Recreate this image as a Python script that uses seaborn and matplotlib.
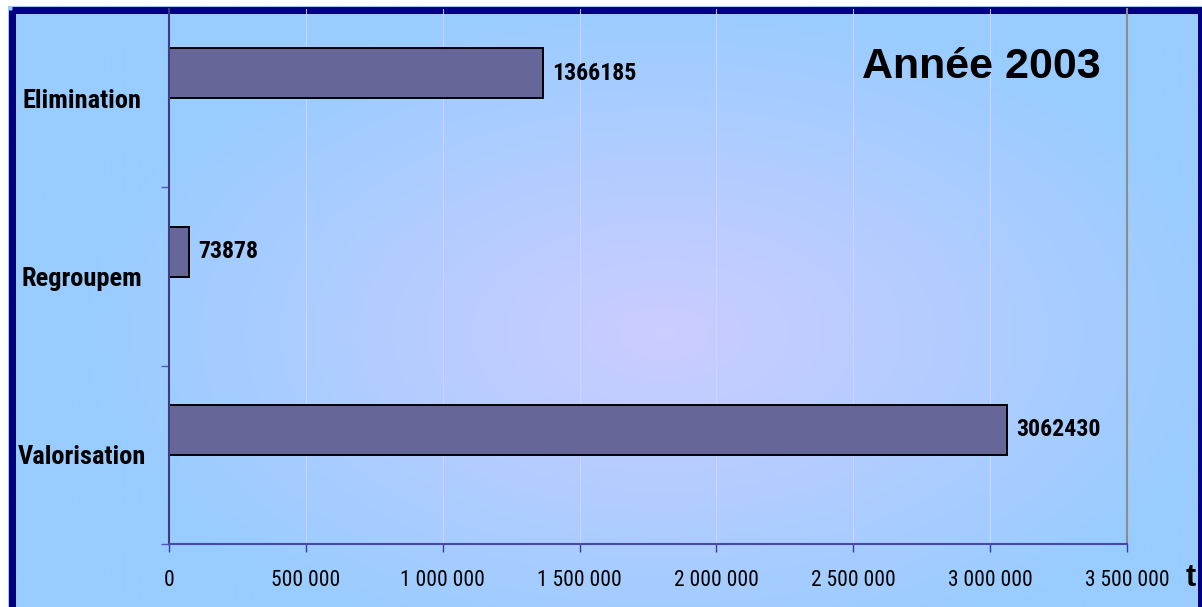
import numpy as np
import pandas as pd
import matplotlib.pyplot as plt
import matplotlib.colors as mcolors
from matplotlib import font_manager
from matplotlib.patches import Rectangle
from matplotlib.ticker import FixedLocator, FuncFormatter
import seaborn as sns

# data
categories = ['Elimination', 'Regroupem', 'Valorisation']
tonnages = [1366185, 73878, 3062430]
x_ticks = [0, 500000, 1000000, 1500000, 2000000, 2500000, 3000000, 3500000]

sns.set_theme(style='white')

# a narrow face if one is there, else plain Liberation Sans a bit smaller
names = {f.name for f in font_manager.fontManager.ttflist}
narrow_fams = [n for n in ['Liberation Sans Narrow', 'Arial Narrow', 'Roboto Condensed',
                           'Open Sans Condensed'] if n in names]
if narrow_fams:
    narrow, shrink = narrow_fams[0], 1.0
else:
    narrow, shrink = 'Liberation Sans', 0.84
plt.rcParams['font.family'] = [narrow, 'DejaVu Sans']
plt.rcParams['text.color'] = 'black'

W, H = 1202, 607
fig = plt.figure(figsize=(W / 100, H / 100), dpi=100)
fig.patch.set_facecolor('white')

# background: radial gradient lavender -> light blue, navy frame
bg = fig.add_axes([0, 0, 1, 1], zorder=0)
yy, xx = np.mgrid[0:H, 0:W]
d = np.sqrt(((xx - 660) / 580.0) ** 2 + ((yy - 330) / 340.0) ** 2).clip(0, 1)
c0 = np.array(mcolors.to_rgb('#cccdff'))
c1 = np.array(mcolors.to_rgb('#99ccff'))
img = c0 * (1 - d[..., None]) + c1 * d[..., None]
bg.imshow(img, extent=[8, W, H, 6], aspect='auto', interpolation='bilinear')
bg.add_patch(Rectangle((11.5, 9.5), 1200.5 - 11.5, 700, fill=False,
                       edgecolor='#000080', linewidth=7 * 0.72))
bg.set_xlim(0, W)
bg.set_ylim(H, 0)
bg.axis('off')

# main plot
ax = fig.add_axes([169 / W, 63 / H, 958 / W, 535 / H], zorder=1)
ax.patch.set_alpha(0)
df = pd.DataFrame({'categorie': categories, 'tonnage': tonnages})
sns.barplot(data=df, x='tonnage', y='categorie', orient='h', color='#666699',
            saturation=1, edgecolor='black', linewidth=1.4, width=0.28, ax=ax)

# bars sit just above the category centre
for p in ax.patches:
    p.set_y(p.get_y() - p.get_height() / 2)

for p, v in zip(ax.patches, tonnages):
    ax.annotate(str(v), (p.get_width(), p.get_y() + p.get_height() / 2),
                xytext=(6.5, 0), textcoords='offset points', va='center',
                ha='left', fontsize=17.2 * shrink, fontweight='bold', color='black')

ax.set_xlim(0, 3500000)
ax.set_ylim(2.5, -0.5)
ax.set_xlabel('')
ax.set_ylabel('')

ax.xaxis.set_major_locator(FixedLocator(x_ticks))
ax.xaxis.set_major_formatter(FuncFormatter(lambda v, pos: f'{v:,.0f}'.replace(',', ' ')))
ax.tick_params(axis='x', direction='out', length=5.8, width=1, color='#3838a8',
               labelsize=15.5 * shrink, pad=13, labelcolor='black', bottom=True)

ax.yaxis.set_minor_locator(FixedLocator([0.5, 1.5, 2.5]))
ax.tick_params(axis='y', which='major', length=0, pad=62.6, labelsize=19 * shrink,
               labelcolor='black', left=True)
ax.tick_params(axis='y', which='minor', direction='out', length=5.8, width=1,
               color='#5555bb', left=True)
for lab in ax.get_yticklabels():
    lab.set_fontweight('bold')
    lab.set_horizontalalignment('center')

ax.grid(axis='x', color='#d4d4ff', linewidth=0.8, alpha=0.85)
ax.grid(axis='y', visible=False)
ax.set_axisbelow(True)

ax.spines['top'].set_visible(False)
ax.spines['right'].set_color('#8c8c8c')
ax.spines['right'].set_linewidth(1.5)
ax.spines['left'].set_color('#3c3c80')
ax.spines['left'].set_linewidth(1.5)
ax.spines['bottom'].set_color('#4848a8')
ax.spines['bottom'].set_linewidth(1.5)

fig.text(981 / W, 1 - 67 / H, 'Année 2003', ha='center', va='center', color='black',
         fontsize=31, fontweight='bold', family=['Liberation Sans', 'DejaVu Sans'])
fig.text(1191 / W, 1 - 578 / H, 't', ha='center', va='center', color='black',
         fontsize=22, fontweight='bold', family=['Liberation Sans', 'DejaVu Sans'])

fig.savefig('out.png', dpi=100)
